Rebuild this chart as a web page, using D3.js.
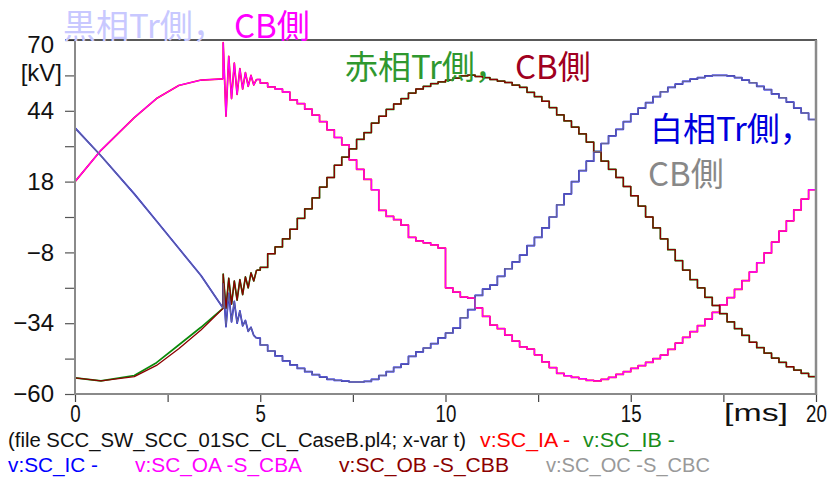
<!DOCTYPE html>
<html>
<head>
<meta charset="utf-8">
<script src="https://cdn.jsdelivr.net/npm/d3@7"></script>
<style>
  body { margin: 0; background: #fff; }
  svg { display: block; }
</style>
</head>
<body>
<svg id="chart" width="831" height="482"></svg>
<script>
// ---- sample times [ms] ----
const timePre = [0, 0.7, 1.6, 2.2, 2.8, 3.4, 4.0];
const timeRing = [4.000, 4.075, 4.150, 4.225, 4.300, 4.375, 4.450,
                  4.525, 4.600, 4.675, 4.750, 4.825, 4.900];
const timeMain = [5.0, 5.2, 5.4, 5.6, 5.8, 6.0, 6.2, 6.4, 6.6, 6.8,
                  7.0, 7.2, 7.4, 7.6, 7.8, 8.0, 8.2, 8.4, 8.6, 8.8,
                  9.0, 9.2, 9.4, 9.6, 9.8, 10.0, 10.2, 10.4, 10.6, 10.8,
                  11.0, 11.2, 11.4, 11.6, 11.8, 12.0, 12.2, 12.4, 12.6, 12.8,
                  13.0, 13.2, 13.4, 13.6, 13.8, 14.0, 14.2, 14.4, 14.6, 14.8,
                  15.0, 15.2, 15.4, 15.6, 15.8, 16.0, 16.2, 16.4, 16.6, 16.8,
                  17.0, 17.2, 17.4, 17.6, 17.8, 18.0, 18.2, 18.4, 18.6, 18.8,
                  19.0, 19.2, 19.4, 19.6, 19.8, 20.0];

// ---- phase A (黒相) voltages [kV] ----
const phaseA_pre = [18.0, 29.5, 41.5, 48.5, 53.3, 55.3, 55.7];
const phaseA_ring = [69.0, 42.0, 64.0, 48.5, 61.5, 50.0, 59.5, 52.0, 58.0, 53.0, 57.0, 53.5, 55.5];
const phaseA_main = [54.2, 52.8, 52.0, 50.9, 48.0, 46.6, 44.6, 42.4, 40.0, 37.0,
                     34.2, 31.5, 26.0, 22.5, 18.8, 15.0, 7.4, 5.2, 4.0, 2.0,
                     -2.5, -3.8, -4.5, -5.2, -6.4, -21.0, -22.6, -24.4, -24.8, -28.4,
                     -31.5, -34.7, -36.0, -38.4, -40.6, -42.7, -43.5, -45.6, -48.2, -50.3,
                     -52.4, -53.3, -53.9, -54.4, -55.0, -55.2, -54.6, -53.9, -52.8, -51.8,
                     -50.6, -49.6, -48.4, -47.0, -45.7, -43.6, -41.3, -39.2, -37.1, -34.9,
                     -32.5, -30.0, -27.3, -24.6, -21.6, -18.4, -15.2, -11.8, -8.2, -4.2,
                     -0.2, 3.6, 7.6, 11.6, 15.0, 17.6];

// ---- phase B (赤相) voltages [kV] ----
const phaseB_pre_tr = [-54.1, -55.2, -53.2, -48.5, -42.0, -35.5, -28.5];
const phaseB_pre_cb = [-54.1, -55.2, -53.6, -49.5, -43.4, -36.5, -28.5];
const phaseB_ring = [-16.0, -28.5, -17.5, -27.0, -18.5, -25.5, -18.0, -23.5, -17.0, -21.0, -15.5, -18.5, -14.5];
const phaseB_main = [-13.5, -8.5, -6.0, -3.0, 0.5, 4.5, 8.0, 12.0, 16.0, 19.5,
                     24.0, 27.0, 30.0, 33.5, 36.0, 39.5, 42.0, 44.5, 46.5, 48.5,
                     50.5, 52.0, 53.0, 54.0, 54.6, 55.3, 56.0, 56.8, 57.1, 56.6,
                     56.2, 55.5, 54.9, 54.4, 53.4, 52.6, 50.8, 49.2, 47.5, 45.2,
                     42.5, 40.3, 38.0, 35.5, 32.5, 29.0, 25.5, 22.5, 19.5, 16.2,
                     12.8, 9.0, 5.0, 1.0, -3.0, -7.0, -11.0, -14.5, -18.0, -21.0,
                     -24.5, -27.5, -30.5, -33.5, -36.0, -38.5, -41.0, -43.0, -45.0, -46.8,
                     -48.4, -50.0, -51.2, -52.4, -53.6, -54.1];

// ---- phase C (白相) voltages [kV] ----
const phaseC_pre = [37.7, 27.5, 13.5, 3.5, -6.5, -16.5, -28.5];
const phaseC_ring = [-19.5, -35.3, -23.0, -33.5, -26.0, -34.0, -29.5, -35.0, -33.0, -37.0, -35.5, -38.5, -39.5];
const phaseC_main = [-42.0, -44.2, -46.0, -47.8, -49.3, -50.6, -51.8, -52.9, -53.8, -54.6,
                     -55.0, -55.3, -55.6, -55.6, -55.4, -54.6, -53.2, -51.8, -50.2, -49.0,
                     -46.2, -44.5, -43.1, -41.5, -39.4, -37.6, -35.8, -32.0, -29.0, -23.8,
                     -21.5, -20.0, -16.8, -14.0, -11.5, -9.0, -5.5, -2.5, 1.0, 5.0,
                     9.5, 13.5, 18.0, 22.0, 25.5, 29.0, 32.0, 34.8, 37.2, 40.0,
                     42.8, 45.0, 47.0, 49.2, 51.0, 52.6, 53.8, 54.8, 55.6, 56.2,
                     56.8, 57.0, 57.0, 56.8, 56.2, 55.3, 54.3, 53.0, 51.8, 50.2,
                     48.8, 47.2, 45.0, 43.2, 40.8, 38.2];

// ---- labels ----
const seriesNames = ["v:SC_IA -", "v:SC_IB -", "v:SC_IC -",
                     "v:SC_OA -S_CBA", "v:SC_OB -S_CBB", "v:SC_OC -S_CBC"];
const fileCaption = "(file SCC_SW_SCC_01SC_CL_CaseB.pl4; x-var t)";
const yTickValues = [70, 57, 44, 31, 18, 5, -8, -21, -34, -47, -60];
const yLabelValues = [70, 44, 18, -8, -34, -60];
const xTickValues = [0, 2.5, 5, 7.5, 10, 12.5, 15, 17.5, 20];
const xLabelValues = [0, 5, 10, 15, 20];
const yUnit = "[kV]";
const xUnit = "[ms]";

// ---- layout ----
const svg = d3.select("#chart");
const plot = { left: 75, right: 816, top: 40, bottom: 394 };
const x = d3.scaleLinear().domain([0, 20]).range([plot.left, plot.right]);
const y = d3.scaleLinear().domain([-60, 70]).range([plot.bottom, plot.top]);

svg.append("rect").attr("width", 831).attr("height", 482).attr("fill", "#fff");

svg.append("defs").append("clipPath").attr("id", "plotClip")
  .append("rect")
  .attr("x", plot.left).attr("y", plot.top - 1)
  .attr("width", plot.right - plot.left).attr("height", plot.bottom - plot.top + 1);

// ---- curves ----
const series = [
  { name: seriesNames[0], color: "#ff0000", width: 1.7, opacity: 1, pre: phaseA_pre, ring: phaseA_ring, main: phaseA_main },
  { name: seriesNames[1], color: "#0a8a0a", width: 1.7, opacity: 1, pre: phaseB_pre_tr, ring: phaseB_ring, main: phaseB_main },
  { name: seriesNames[2], color: "#0000ff", width: 1.7, opacity: 1, pre: phaseC_pre, ring: phaseC_ring, main: phaseC_main },
  { name: seriesNames[3], color: "#ff00ff", width: 1.3, opacity: 1, pre: phaseA_pre, ring: phaseA_ring, main: phaseA_main },
  { name: seriesNames[4], color: "#8b0000", width: 1.3, opacity: 1, pre: phaseB_pre_cb, ring: phaseB_ring, main: phaseB_main },
  { name: seriesNames[5], color: "#808080", width: 1.3, opacity: 0.78, pre: phaseC_pre, ring: phaseC_ring, main: phaseC_main }
];

const lineLinear = d3.line().x(d => x(d[0])).y(d => y(d[1]));
const lineStep = d3.line().x(d => x(d[0])).y(d => y(d[1])).curve(d3.curveStepAfter);

const curves = svg.append("g").attr("clip-path", "url(#plotClip)");
series.forEach(s => {
  const pre = timePre.map((t, i) => [t, s.pre[i]]);
  // switching transient: linear zig-zag starting from the last pre-close sample
  const ring = [pre[pre.length - 1]].concat(timeRing.map((t, i) => [t, s.ring[i]]));
  // post-close staircase, continuing from the end of the transient
  const main = [ring[ring.length - 1]].concat(timeMain.map((t, i) => [t, s.main[i]]));
  [lineLinear(pre), lineLinear(ring), lineStep(main)].forEach(d => {
    curves.append("path")
      .attr("d", d)
      .attr("fill", "none")
      .attr("stroke", s.color)
      .attr("stroke-width", s.width)
      .attr("stroke-opacity", s.opacity)
      .attr("stroke-linejoin", "round");
  });
});

// ---- axes ----
const fmt = v => (v < 0 ? "\u2212" + Math.abs(v) : String(v));

const yAxis = svg.append("g")
  .attr("transform", `translate(${plot.left},0)`)
  .call(d3.axisLeft(y).tickValues(yTickValues).tickSize(10).tickPadding(11)
    .tickFormat(v => (yLabelValues.includes(v) ? fmt(v) : "")));
yAxis.select(".domain").remove();
yAxis.selectAll(".tick line").attr("stroke", "#555").attr("stroke-width", 1.2);
yAxis.selectAll(".tick text")
  .attr("font-family", "Liberation Sans, Arial, sans-serif")
  .attr("font-size", 24).attr("fill", "#111")
  // the top label sits a little below its tick so it stays clear of the frame
  .attr("dy", v => (v === 70 ? "0.5em" : "0.32em"));

const xAxis = svg.append("g")
  .attr("transform", `translate(0,${plot.bottom})`)
  .call(d3.axisBottom(x).tickValues(xTickValues).tickSize(8).tickPadding(3)
    .tickFormat(v => (xLabelValues.includes(v) ? fmt(v) : "")));
xAxis.select(".domain").remove();
xAxis.selectAll(".tick line").attr("stroke", "#444").attr("stroke-width", 1.2);
xAxis.selectAll(".tick text")
  .attr("font-family", "Liberation Sans, Arial, sans-serif")
  .attr("font-size", 24).attr("fill", "#111")
  .attr("transform", "scale(0.78,1)");

// frame
svg.append("line").attr("x1", 65).attr("x2", plot.right + 1).attr("y1", plot.top).attr("y2", plot.top)
  .attr("stroke", "#222").attr("stroke-width", 1.5);
svg.append("line").attr("x1", plot.right).attr("x2", plot.right).attr("y1", plot.top).attr("y2", plot.bottom + 1)
  .attr("stroke", "#8a8a8a").attr("stroke-width", 2.5);
svg.append("line").attr("x1", plot.left).attr("x2", plot.left).attr("y1", plot.top).attr("y2", plot.bottom + 1)
  .attr("stroke", "#8a8a8a").attr("stroke-width", 2);
svg.append("line").attr("x1", plot.left).attr("x2", plot.right).attr("y1", plot.bottom).attr("y2", plot.bottom)
  .attr("stroke", "#8a8a8a").attr("stroke-width", 2);

// unit labels
svg.append("text").text(yUnit)
  .attr("x", 62).attr("y", 81).attr("text-anchor", "end")
  .attr("font-family", "Liberation Sans, Arial, sans-serif").attr("font-size", 24).attr("fill", "#111");
svg.append("text").text(xUnit)
  .attr("x", 724).attr("y", 421).attr("textLength", 64).attr("lengthAdjust", "spacingAndGlyphs")
  .attr("font-family", "Liberation Sans, Arial, sans-serif").attr("font-size", 23).attr("fill", "#111");

// ---- phase titles ----
const titleFont = "'Noto Sans CJK JP', sans-serif";
const titles = [
  { text: "黒相Tr側，", x: 63, y: 38, color: "#c8c8ff" },
  { text: "CB側", x: 234, y: 38, color: "#ff00ff" },
  { text: "赤相Tr側，", x: 345, y: 79, color: "#2f982f" },
  { text: "CB側", x: 515, y: 79, color: "#a00020" },
  { text: "白相Tr側，", x: 650, y: 141, color: "#0000dd" },
  { text: "CB側", x: 648, y: 186, color: "#888888" }
];
svg.selectAll("text.title").data(titles).join("text")
  .attr("class", "title")
  .attr("x", d => d.x).attr("y", d => d.y)
  .attr("fill", d => d.color)
  .attr("font-family", titleFont).attr("font-size", 33)
  .text(d => d.text);

// ---- legend ----
const legendFont = "Liberation Sans, Arial, sans-serif";
const legendItems = [
  { text: fileCaption, color: "#111", x: 8, y: 447, len: 458 },
  { text: series[0].name, color: series[0].color, x: 480, y: 447, len: 90 },
  { text: series[1].name, color: "#1a8c1a", x: 583, y: 447, len: 92 },
  { text: series[2].name, color: series[2].color, x: 8, y: 472, len: 90 },
  { text: series[3].name, color: series[3].color, x: 135, y: 472, len: 167 },
  { text: series[4].name, color: series[4].color, x: 339, y: 472, len: 170 },
  { text: series[5].name, color: "#999999", x: 546, y: 472, len: 164 }
];
svg.selectAll("text.legend").data(legendItems).join("text")
  .attr("class", "legend")
  .attr("x", d => d.x).attr("y", d => d.y)
  .attr("fill", d => d.color)
  .attr("font-family", legendFont).attr("font-size", 20)
  .attr("textLength", d => d.len).attr("lengthAdjust", "spacingAndGlyphs")
  .text(d => d.text);
</script>
</body>
</html>
